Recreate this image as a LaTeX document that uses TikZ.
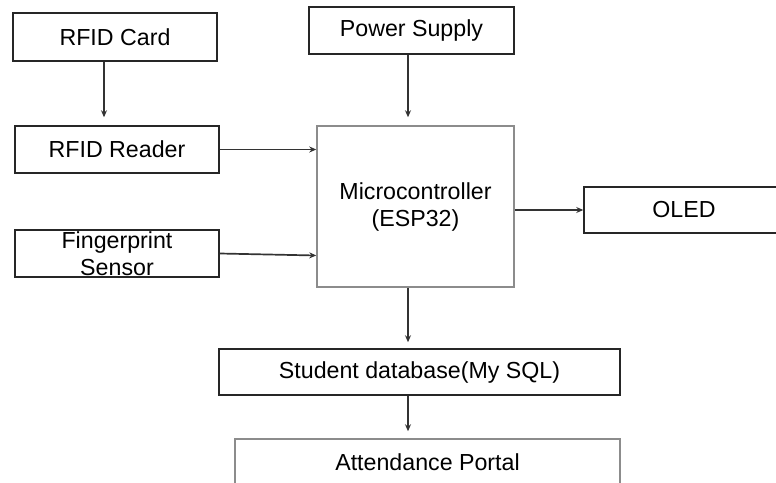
\documentclass[tikz,border=0pt]{standalone}
\usepackage{fontspec}
\setmainfont{Liberation Sans}
\usepackage{tikz}
\usetikzlibrary{shapes.geometric, arrows, arrows.meta}
\usetikzlibrary{positioning}
\tikzstyle{block} = [rectangle, minimum width=102pt, minimum height=23.5pt, inner sep=0pt, text centered, align=center, draw=black!85, line width=0.75pt, font=\fontsize{11.6}{13.5}\selectfont]
\tikzstyle{softblock} = [block, draw=black!45]
\tikzstyle{arrow} = [line width=0.85pt, draw=black!80, ->, >={Stealth[length=3.5pt, width=3pt]}]

\begin{document}
\begin{tikzpicture}[x=0.5pt, y=-0.5pt]
                                \useasboundingbox (0,0) rectangle (776,482);
                                \clip (0,0) rectangle (776,482);
                                \node (card) [block, minimum height=24pt] at (115,37) {RFID Card};
                                \node (power) [block, minimum width=102.5pt] at (411.5,30.5) {Power Supply};
                                \node (reader) [block] at (117,149.5) {RFID Reader};
                                \node (finger) [block] at (117,253.5) {Fingerprint\\Sensor};
                                \node (mcu) [softblock, minimum width=98.5pt, minimum height=80.5pt] at (415.5,206.5) {Microcontroller\\(ESP32)};
                                \node (oled) [block, minimum width=100pt, minimum height=23pt] at (684,210) {OLED};
                                \node (db) [block, minimum width=200.5pt, minimum height=23pt] at (419.5,372) {Student database(My SQL)};
                                \node (portal) [softblock, minimum width=192.5pt] at (427.5,462.5) {Attendance Portal};
                                \draw [arrow, shorten >=4pt] ([xshift=-5.5pt]card.south) -- ([xshift=-5.5pt]card.south |- reader.north);
                                \draw [arrow, shorten >=4pt] ([xshift=-1.75pt]power.south) -- ([xshift=-1.75pt]power.south |- mcu.north);
                                \draw [arrow] (reader.east) -- (reader.east -| mcu.west);
                                \draw [arrow] (finger.east) -- ([yshift=-1pt]finger.east -| mcu.west);
                                \draw [arrow] (oled.west -| mcu.east) -- (oled.west);
                                \draw [arrow, shorten >=3pt] ([xshift=-3.75pt]mcu.south) -- ([xshift=-3.75pt]mcu.south |- db.north);
                                \draw [arrow, shorten >=3.5pt] ([xshift=-3.75pt]mcu.south |- db.south) -- ([xshift=-3.75pt]mcu.south |- portal.north);
                            \end{tikzpicture}
\end{document}
